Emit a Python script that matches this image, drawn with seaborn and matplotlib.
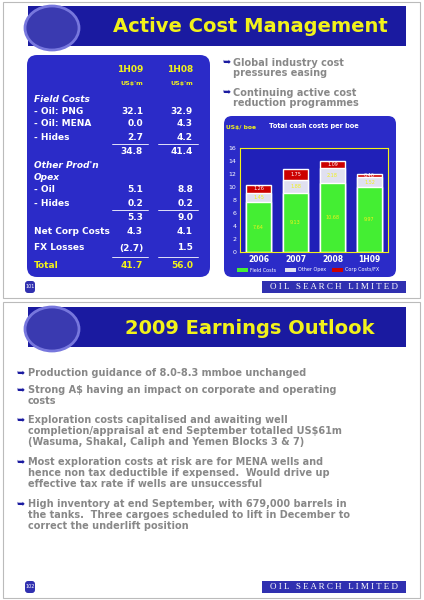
import matplotlib
matplotlib.use("Agg")
import matplotlib.pyplot as plt
import seaborn as sns
import pandas as pd
from matplotlib.patches import FancyBboxPatch, Rectangle, Ellipse

years = ["2006", "2007", "2008", "1H09"]
field_costs = [7.64, 9.13, 10.68, 9.97]
other_opex = [1.45, 1.88, 2.18, 1.52]
corp_fx = [1.26, 1.75, 1.09, 0.46]

row_labels = ["Field Costs", "- Oil: PNG", "- Oil: MENA", "- Hides", "", "Other Prod'n", "Opex",
              "- Oil", "- Hides", "", "Net Corp Costs", "FX Losses", "Total"]
col_1h09 = ["", "32.1", "0.0", "2.7", "34.8", "", "", "5.1", "0.2", "5.3", "4.3", "(2.7)", "41.7"]
col_1h08 = ["", "32.9", "4.3", "4.2", "41.4", "", "", "8.8", "0.2", "9.0", "4.1", "1.5", "56.0"]
row_y = [100, 112, 124, 137, 151, 165, 177, 190, 203, 217, 232, 248, 265]

bullets_bottom = [
    "Production guidance of 8.0-8.3 mmboe unchanged",
    "Strong A$ having an impact on corporate and operating\ncosts",
    "Exploration costs capitalised and awaiting well\ncompletion/appraisal at end September totalled US$61m\n(Wasuma, Shakal, Caliph and Yemen Blocks 3 & 7)",
    "Most exploration costs at risk are for MENA wells and\nhence non tax deductible if expensed.  Would drive up\neffective tax rate if wells are unsuccessful",
    "High inventory at end September, with 679,000 barrels in\nthe tanks.  Three cargoes scheduled to lift in December to\ncorrect the underlift position",
]

sns.set_theme(style="white")
plt.rcParams['font.family'] = ['DejaVu Sans']
W, H = 424, 600
fig = plt.figure(figsize=(4.24, 6.0), dpi=100)
fig.patch.set_facecolor("white")
bg = fig.add_axes([0, 0, 1, 1])
bg.set_xlim(0, W); bg.set_ylim(H, 0); bg.axis("off")
NAVY = "#1a1aa0"
BLUE = "#2b2bc8"
YEL = "#f2f21a"

def slide(y0, y1):
    bg.add_patch(Rectangle((3, y0), 417, y1 - y0, fill=False, ec="#bbbbbb", lw=0.8))

def titlebar(y, text):
    bg.add_patch(Rectangle((28, y), 378, 40, fc=NAVY, ec="none"))
    bg.add_patch(Ellipse((52, y + 22), 54, 44, fc="#3a3ab0", ec="#7777dd", lw=2))
    bg.text(250, y + 21, text, color=YEL, fontsize=14, fontweight="bold", ha="center", va="center")

def footer(y, num):
    bg.add_patch(Rectangle((262, y - 6), 144, 12, fc="#3030b0", ec="none"))
    bg.text(334, y, "O I L   S E A R C H   L I M I T E D", color="white", fontsize=6.5,
            family="Liberation Serif", ha="center", va="center")
    bg.add_patch(FancyBboxPatch((25, y - 6), 10, 12, boxstyle="round,pad=0,rounding_size=3", fc="#3030b0", ec="none"))
    bg.text(30, y, num, color="white", fontsize=3.5, ha="center", va="center")

# Top slide
slide(2, 298)
titlebar(6, "Active Cost Management")
bg.add_patch(FancyBboxPatch((27, 55), 183, 222, boxstyle="round,pad=0,rounding_size=10", fc=BLUE, ec="none"))
bg.text(143, 70, "1H09", color=YEL, fontsize=6.5, fontweight="bold", ha="right", va="center")
bg.text(193, 70, "1H08", color=YEL, fontsize=6.5, fontweight="bold", ha="right", va="center")
bg.text(143, 84, "US$'m", color=YEL, fontsize=4.5, fontweight="bold", ha="right", va="center")
bg.text(193, 84, "US$'m", color=YEL, fontsize=4.5, fontweight="bold", ha="right", va="center")
for lab, a, b, y in zip(row_labels, col_1h09, col_1h08, row_y):
    italic = lab in ("Field Costs", "Other Prod'n", "Opex")
    col = YEL if lab == "Total" else "white"
    bg.text(34, y, lab, color=col, fontsize=6.5, fontweight="bold",
            style="italic" if italic else "normal", va="center")
    bg.text(143, y, a, color=col, fontsize=6.5, fontweight="bold", ha="right", va="center")
    bg.text(193, y, b, color=col, fontsize=6.5, fontweight="bold", ha="right", va="center")
for yl in (144, 210, 257):
    bg.plot([112, 148], [yl, yl], color="white", lw=0.6)
    bg.plot([158, 198], [yl, yl], color="white", lw=0.6)

bg.text(222, 62, "➥", color=NAVY, fontsize=7, va="center")
bg.text(233, 68, "Global industry cost\npressures easing", color="#888888", fontsize=7, fontweight="bold", va="center", linespacing=1.1)
bg.text(222, 92, "➥", color=NAVY, fontsize=7, va="center")
bg.text(233, 98, "Continuing active cost\nreduction programmes", color="#888888", fontsize=7, fontweight="bold", va="center", linespacing=1.1)

bg.add_patch(FancyBboxPatch((224, 116), 172, 161, boxstyle="round,pad=0,rounding_size=8", fc=BLUE, ec="none"))
bg.text(226, 127, "US$/ boe", color=YEL, fontsize=4.3, fontweight="bold", va="center")
bg.text(314, 126, "Total cash costs per boe", color="white", fontsize=4.8, fontweight="bold", ha="center", va="center")

ax = fig.add_axes([240 / W, 1 - 252 / H, 148 / W, 104 / H])
ax.set_facecolor("#2020b8")
df = pd.DataFrame({"year": years, "field": field_costs, "other": other_opex, "corp": corp_fx})
df["s2"] = df["field"] + df["other"]
df["s3"] = df["s2"] + df["corp"]
sns.barplot(data=df, x="year", y="s3", color="#cc0000", ax=ax, width=0.68, saturation=1)
sns.barplot(data=df, x="year", y="s2", color="#e0e0f0", ax=ax, width=0.68, saturation=1)
sns.barplot(data=df, x="year", y="field", color="#44ee33", ax=ax, width=0.68, saturation=1)
for i, r in df.iterrows():
    ax.text(i, r["field"] / 2, f"{r['field']:.2f}", color=YEL, fontsize=3.5, ha="center", va="center")
    ax.text(i, r["field"] + r["other"] / 2, f"{r['other']:.2f}", color=YEL, fontsize=3.5, ha="center", va="center")
    ax.text(i, r["s2"] + r["corp"] / 2, f"{r['corp']:.2f}", color="white", fontsize=3.5, ha="center", va="center")
ax.set_ylim(0, 16)
ax.set_yticks(range(0, 17, 2))
ax.set_xlabel(""); ax.set_ylabel("")
ax.tick_params(colors="white", labelsize=4.5, length=1.5, pad=1)
for t in ax.get_xticklabels():
    t.set_color("white"); t.set_fontsize(5.5); t.set_fontweight("bold")
for s in ax.spines.values():
    s.set_color(YEL); s.set_linewidth(0.8)
for x, c, lab in [(250, "#44ee33", "Field Costs"), (298, "#e0e0f0", "Other Opex"), (345, "#cc0000", "Corp Costs/FX")]:
    bg.add_patch(Rectangle((x - 13, 268), 11, 4, fc=c, ec="none"))
    bg.text(x, 270, lab, color="white", fontsize=3.5, va="center")
footer(287, "101")

# Bottom slide
slide(302, 598)
titlebar(307, "2009 Earnings Outlook")
y = 368
for b in bullets_bottom:
    n = b.count("\n") + 1
    bg.text(16, y, "➥", color=NAVY, fontsize=7, va="top")
    bg.text(28, y, b, color="#888888", fontsize=7, fontweight="bold", va="top", linespacing=1.15)
    y += n * 12.3 + 5
footer(587, "102")

fig.savefig("out.png", dpi=100, facecolor="white")
